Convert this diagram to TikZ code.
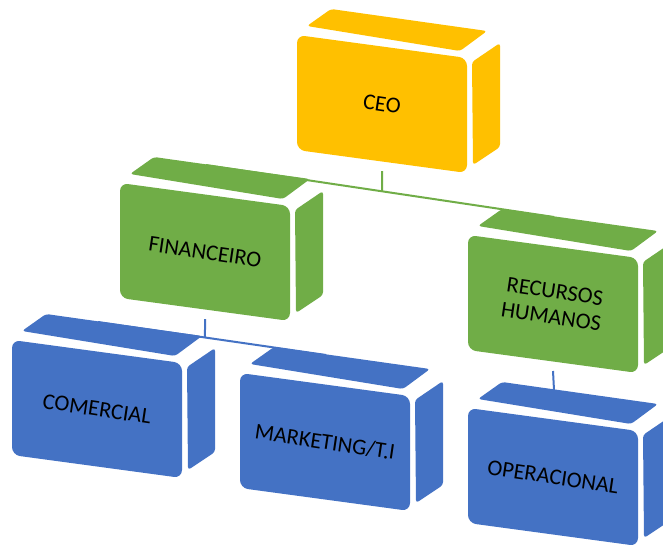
\documentclass[tikz,border=0pt]{standalone}
\usepackage{fontspec}
\setmainfont{Carlito}
\usetikzlibrary{backgrounds}
\definecolor{ceoyellow}{HTML}{FFC000}
\definecolor{orggreen}{HTML}{70AD47}
\definecolor{orgblue}{HTML}{4472C4}
\tikzset{
  lbl/.style={text=black, align=center, rotate=-8.5, inner sep=0pt,
    font=\fontsize{22.5}{25.5}\selectfont},
  gline/.style={draw=orggreen, line width=2pt},
  bline/.style={draw=orgblue, line width=2pt},
}
\newcommand\orgbox[5]{%
  \begin{scope}[shift={(#2,#3)}]
    \fill[#4, rounded corners=3pt] (10,-9) -- (163,16) -- (190,-4) -- (34,-26) -- cycle;
    \fill[#4, rounded corners=3pt] (175,27) -- (203,8) -- (203,112) -- (176,130) -- cycle;
    \fill[#4, rounded corners=8pt] (0,0) -- (170,23) -- (170,138) -- (0,115) -- cycle;
    \node[lbl] (#1) at (85,69) {#5};
    \coordinate (#1-top) at (86,-18);
    \coordinate (#1-bot) at (85,136);
    \coordinate (#1-far) at (85,300);
  \end{scope}}
\begin{document}
\begin{tikzpicture}[x=1pt, y=-1pt]
  \useasboundingbox (0,0) rectangle (663,546);
  \clip (0,0) rectangle (663,546);
  \orgbox{ceo}{297}{35}{ceoyellow}{CEO}
  \orgbox{fin}{120}{183}{orggreen}{FINANCEIRO}
  \orgbox{rh}{468}{235}{orggreen}{RECURSOS\\HUMANOS}
  \orgbox{com}{12}{340}{orgblue}{COMERCIAL}
  \orgbox{mkt}{240}{373}{orgblue}{MARKETING/T.I}
  \orgbox{op}{468}{408}{orgblue}{OPERACIONAL}
  \begin{scope}[on background layer]
    \draw[gline] (fin-top) -- (rh-top);
    \draw[gline] (ceo-bot) -- (intersection of fin-top--rh-top and ceo-bot--ceo-far);
    \draw[bline] (com-top) -- (mkt-top);
    \draw[bline] (fin-bot) -- (intersection of com-top--mkt-top and fin-bot--fin-far);
    \draw[bline] (rh-bot) -- (op-top);
  \end{scope}
\end{tikzpicture}
\end{document}
